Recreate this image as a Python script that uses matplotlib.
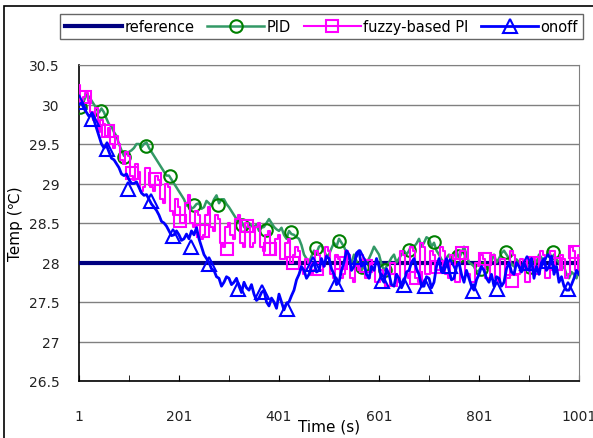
import numpy as np
import matplotlib
matplotlib.use('Agg')
import matplotlib.pyplot as plt
from matplotlib.legend_handler import HandlerTuple
from matplotlib.patches import Rectangle

# temperature traces sampled every 5 s (t = 1 ... 1001)
pid = [30.0, 30.02, 30.05, 30.12, 30.1, 30.05, 30.0, 29.95, 29.9, 29.95,
       29.9, 29.82, 29.75, 29.72, 29.65, 29.6, 29.5, 29.42, 29.35, 29.38,
       29.4, 29.42, 29.45, 29.5, 29.5, 29.46, 29.5, 29.52, 29.45, 29.4,
       29.35, 29.3, 29.25, 29.2, 29.15, 29.1, 29.1, 29.05, 29.0, 28.95,
       28.9, 28.85, 28.8, 28.72, 28.75, 28.68, 28.7, 28.74, 28.75, 28.68,
       28.7, 28.78, 28.75, 28.72, 28.8, 28.85, 28.75, 28.8, 28.8, 28.74,
       28.7, 28.65, 28.6, 28.55, 28.5, 28.52, 28.45, 28.42, 28.5, 28.46,
       28.45, 28.48, 28.4, 28.44, 28.45, 28.5, 28.55, 28.5, 28.45, 28.42,
       28.4, 28.44, 28.35, 28.3, 28.4, 28.36, 28.35, 28.32, 28.3, 28.22,
       28.1, 28.05, 28.0, 28.08, 28.15, 28.12, 28.2, 28.22, 28.15, 28.08,
       28.1, 28.18, 28.25, 28.2, 28.3, 28.25, 28.2, 28.12, 28.05, 28.0,
       28.1, 28.02, 27.95, 27.9, 27.95, 28.0, 28.05, 28.12, 28.2, 28.15,
       28.1, 27.98, 27.9, 27.95, 28.0, 28.06, 28.1, 28.0, 28.05, 28.1,
       28.15, 28.1, 28.15, 28.22, 28.2, 28.24, 28.3, 28.2, 28.25, 28.32,
       28.3, 28.2, 28.25, 28.15, 28.1, 28.04, 28.0, 28.06, 28.1, 28.0,
       28.1, 28.15, 28.05, 28.12, 28.2, 28.1, 28.0, 27.98, 27.95, 27.88,
       27.9, 27.95, 28.0, 27.92, 27.95, 28.02, 28.1, 28.0, 28.05, 28.12,
       28.15, 28.1, 28.05, 27.98, 27.95, 28.04, 28.0, 27.94, 27.9, 27.98,
       27.95, 28.02, 28.05, 28.0, 28.1, 28.06, 28.0, 28.08, 28.15, 28.05,
       28.1, 28.04, 28.0, 27.92, 27.95, 27.85, 27.8, 27.88, 27.85, 27.8,
       27.9]
fuzzy = [30.25, 30.05, 30.1, 30.15, 30.05, 29.9, 29.8, 29.95, 29.65, 29.8,
         29.75, 29.6, 29.7, 29.5, 29.45, 29.6, 29.5, 29.3, 29.25, 29.4,
         29.35, 29.1, 29.05, 29.25, 29.15, 28.9, 28.95, 29.2, 29.2, 28.95,
         28.9, 29.1, 29.05, 28.8, 28.75, 29.0, 28.95, 28.65, 28.6, 28.8,
         28.7, 28.5, 28.5, 28.75, 28.85, 28.5, 28.45, 28.65, 28.6, 28.3,
         28.35, 28.6, 28.7, 28.45, 28.4, 28.6, 28.55, 28.25, 28.2, 28.45,
         28.5, 28.35, 28.3, 28.55, 28.6, 28.25, 28.2, 28.5, 28.45, 28.2,
         28.25, 28.45, 28.5, 28.2, 28.15, 28.35, 28.4, 28.1, 28.1, 28.3,
         28.35, 28.05, 28.05, 28.25, 28.3, 28.0, 28.1, 28.2, 28.15, 27.9,
         27.85, 28.05, 28.0, 27.85, 27.9, 28.15, 28.1, 27.9, 27.95, 28.2,
         28.15, 27.85, 27.8, 28.1, 28.05, 27.8, 27.85, 28.15, 28.1, 27.8,
         27.75, 27.95, 27.9, 28.1, 28.05, 27.8, 27.8, 28.0, 28.0, 27.75,
         27.75, 27.9, 27.85, 27.7, 27.7, 28.0, 28.0, 27.8, 27.75, 28.15,
         28.1, 27.85, 27.8, 28.2, 28.15, 27.8, 27.75, 28.25, 28.2, 27.85,
         27.85, 28.15, 28.1, 27.9, 27.9, 28.2, 28.15, 27.85, 27.8, 28.1,
         28.05, 27.75, 27.75, 28.15, 28.15, 27.85, 27.85, 27.75, 27.75, 28.0,
         27.95, 28.1, 28.05, 27.8, 27.8, 28.1, 28.1, 27.8, 27.75, 28.05,
         28.05, 27.8, 27.8, 28.15, 28.1, 27.85, 27.85, 28.05, 28.0, 27.75,
         27.75, 28.05, 28.05, 27.85, 27.85, 28.15, 28.1, 27.8, 27.8, 28.15,
         28.15, 27.9, 27.9, 28.1, 28.05, 27.8, 27.85, 28.2, 28.15, 27.9,
         28.1]
onoff = [30.0, 30.02, 29.95, 29.9, 29.85, 29.88, 29.8, 29.7, 29.6, 29.5,
         29.45, 29.48, 29.4, 29.32, 29.3, 29.25, 29.2, 29.12, 29.1, 29.12,
         29.05, 29.0, 29.0, 29.02, 28.95, 28.88, 28.85, 28.86, 28.8, 28.74,
         28.7, 28.66, 28.6, 28.52, 28.5, 28.46, 28.4, 28.34, 28.35, 28.4,
         28.35, 28.28, 28.3, 28.36, 28.3, 28.4, 28.35, 28.44, 28.3, 28.2,
         28.1, 28.05, 28.0, 27.92, 27.9, 27.82, 27.8, 27.7, 27.75, 27.82,
         27.8, 27.72, 27.75, 27.8, 27.7, 27.62, 27.75, 27.68, 27.65, 27.72,
         27.6, 27.52, 27.55, 27.62, 27.65, 27.5, 27.45, 27.55, 27.5, 27.42,
         27.6, 27.5, 27.4, 27.48, 27.5, 27.58, 27.65, 27.78, 27.85, 27.95,
         27.9, 27.8, 27.85, 27.95, 28.0, 27.88, 27.9, 28.05, 27.95, 28.08,
         28.05, 27.92, 27.85, 27.72, 27.75, 27.9, 28.0, 28.15, 28.1, 27.9,
         27.95, 28.12, 28.15, 27.95, 28.0, 27.85, 27.8, 27.95, 27.9, 28.05,
         27.95, 27.8, 27.75, 27.92, 27.85, 27.72, 27.7, 27.85, 27.8, 27.68,
         27.75, 27.88, 27.9, 28.0, 28.05, 27.92, 27.85, 27.7, 27.7, 27.82,
         27.8, 27.68, 27.75, 27.95, 28.05, 27.88, 27.95, 28.05, 27.9, 27.78,
         27.8, 27.95, 28.0, 27.85, 27.75, 27.9, 27.8, 27.7, 27.65, 27.78,
         27.85, 27.95, 27.9, 27.8, 27.75, 27.85, 27.7, 27.82, 27.8, 27.7,
         27.75, 27.92, 28.0, 27.88, 27.85, 28.0, 27.95, 27.88, 28.0, 27.92,
         27.9, 28.05, 27.8, 27.95, 27.85, 28.0, 28.05, 27.9, 27.95, 28.08,
         27.85, 27.95, 27.75, 27.82, 27.7, 27.65, 27.65, 27.72, 27.8, 27.9,
         27.85]
reference = [28.0, 28.0]
ref_t = [1, 1001]

# marker positions (time, temp)
pid_mk_t = [3, 45, 91, 135, 183, 231, 279, 327, 375, 425, 475, 521,
            567, 613, 661, 711, 759, 805, 855, 903, 949]
pid_mk_y = [29.97, 29.92, 29.34, 29.48, 29.1, 28.73, 28.73, 28.47, 28.41, 28.38, 28.18, 28.27,
            27.94, 27.9, 28.16, 28.26, 28.08, 27.92, 28.13, 27.94, 28.13]
fuzzy_mk_t = [13, 59, 107, 153, 203, 249, 297, 337, 383, 429, 477, 525,
              575, 625, 675, 717, 767, 813, 867, 909, 955, 993]
fuzzy_mk_y = [30.1, 29.66, 29.13, 29.06, 28.53, 28.4, 28.17, 28.46, 28.17, 28.0, 27.92, 28.0,
              27.95, 27.78, 27.8, 27.94, 28.12, 28.05, 27.77, 28.0, 27.98, 28.13]
onoff_mk_t = [1, 27, 57, 99, 145, 189, 225, 261, 319, 367, 417, 469,
              515, 563, 607, 651, 693, 743, 789, 837, 897, 939, 979]
onoff_mk_y = [30.03, 29.82, 29.44, 28.93, 28.78, 28.34, 28.2, 27.98, 27.66, 27.63, 27.41, 27.98,
              27.73, 28.07, 27.77, 27.72, 27.7, 27.96, 27.64, 27.66, 28.0, 28.02, 27.66]

xticks = [1, 201, 401, 601, 801, 1001]
yticks = [26.5, 27, 27.5, 28, 28.5, 29, 29.5, 30, 30.5]

fig = plt.figure(figsize=(5.93, 4.39), dpi=100)
ax = fig.add_axes([79/593., 1-382/439., 500/593., 316/439.])

# outer chart frame
fig.patches.append(Rectangle((4/593., -0.05), 1.1, 1-7/439.+0.05, transform=fig.transFigure,
                             fill=False, edgecolor='k', lw=1.2))

t_pid = np.linspace(1, 1001, len(pid))
t_fuz = np.linspace(1, 1001, len(fuzzy))
t_onf = np.linspace(1, 1001, len(onoff))

l_ref, = ax.plot(ref_t, reference, color='#000080', lw=3, zorder=3)
l_pid, = ax.plot(t_pid, pid, color='#339966', lw=1.8, zorder=4)
m_pid, = ax.plot(pid_mk_t, pid_mk_y, 'o', ms=9, mfc='none', mec='#008000', mew=1.5, zorder=4)
l_fuz, = ax.plot(t_fuz, fuzzy, color='#FF00FF', lw=1.5, drawstyle='steps-mid', zorder=5)
m_fuz, = ax.plot(fuzzy_mk_t, fuzzy_mk_y, 's', ms=9, mfc='none', mec='#FF00FF', mew=1.5, zorder=5)
l_onf, = ax.plot(t_onf, onoff, color='#0000FF', lw=2, zorder=6)
m_onf, = ax.plot(onoff_mk_t, onoff_mk_y, '^', ms=10, mfc='none', mec='#0000FF', mew=1.5, zorder=6)

ax.set_xlim(1, 1001)
ax.set_ylim(26.5, 30.5)
ax.set_xticks(xticks)
ax.set_xticks(np.arange(101, 1001, 100), minor=True)
ax.set_yticks(yticks)
ax.set_yticklabels(['26.5', '27', '27.5', '28', '28.5', '29', '29.5', '30', '30.5'])
ax.yaxis.grid(True, color='#808080', lw=1)
ax.set_axisbelow(True)
ax.tick_params(axis='x', which='both', direction='in', length=4, color='k', pad=20, labelsize=10, labelcolor='#222222')
ax.tick_params(axis='y', length=0, pad=14, labelsize=10, labelcolor='#222222')
ax.spines['top'].set_color('#808080')
ax.spines['right'].set_color('#808080')
ax.spines['left'].set_color('k')
ax.spines['bottom'].set_color('k')
ax.spines['left'].set_linewidth(1.2)
ax.spines['bottom'].set_linewidth(1.2)

ax.set_xlabel('Time (s)', fontsize=11, labelpad=-3)
ax.set_ylabel('Temp (\u2103)', fontsize=11, labelpad=4)

leg = fig.legend([l_ref, (l_pid, m_pid), (l_fuz, m_fuz), (l_onf, m_onf)],
                 ['reference', 'PID', 'fuzzy-based PI', 'onoff'],
                 handler_map={tuple: HandlerTuple(ndivide=1, pad=0)},
                 loc='upper left', bbox_to_anchor=(60/593., 1-40/439., 523/593., 25/439.),
                 mode='expand', ncol=4, fontsize=10.5, handlelength=3.9, handletextpad=0.15,
                 columnspacing=0.6, borderpad=0.35, borderaxespad=0,
                 numpoints=1, frameon=True, fancybox=False)
leg.get_frame().set_edgecolor('#404040')
leg.get_frame().set_linewidth(1)

fig.savefig('out.png', dpi=100)
